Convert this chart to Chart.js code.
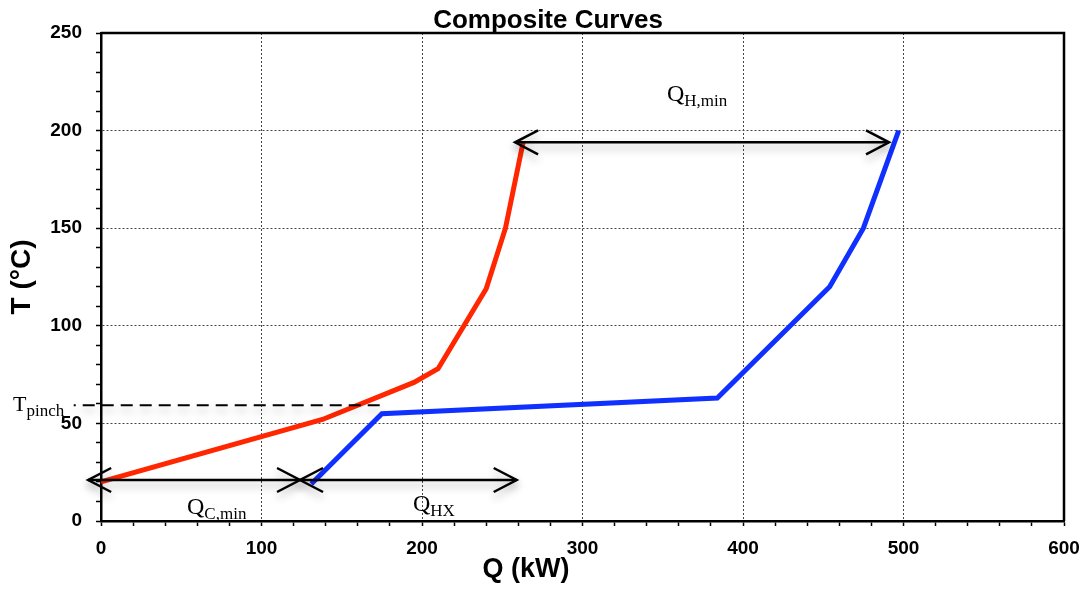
<!DOCTYPE html>
<html>
<head>
<meta charset="utf-8">
<title>Composite Curves</title>
<script src="https://cdn.jsdelivr.net/npm/chart.js@4.4.1/dist/chart.umd.min.js"></script>
<style>
  html, body { margin: 0; padding: 0; background: #fff; }
  #wrap { width: 1087px; height: 590px; position: relative; }
</style>
</head>
<body>
<div id="wrap"><canvas id="chartComposite"></canvas></div>
<script>
// hot composite curve (Q in kW, T in °C)
const hotQ = [0, 138, 195, 210, 240, 252, 263];
const hotT = [20, 52, 71, 78, 119, 150, 194];

// cold composite curve
const coldQ = [131, 175, 384, 454, 475, 497];
const coldT = [19, 55, 63, 120, 150, 200];

// double headed arrows: Q from / Q to / T
const arrowFromQ = [258, -8, 124];
const arrowToQ = [491, 124, 259];
const arrowT = [194, 21, 21];

// pinch line
const pinchQ = [-17, 175];
const pinchT = 59.3;

// annotation labels (main letter + subscript)
const labelMain = ['Q', 'Q', 'Q', 'T'];
const labelSub = ['H,min', 'C,min', 'HX', 'pinch'];
const labelQ = [352.6, 53.6, 194.4, -54.8];
const labelT = [215, 3.4, 5, 56.3];

const chartTitle = 'Composite Curves';
const xTitle = 'Q (kW)';
const yTitle = 'T (°C)';

function toPoints(xs, ys) {
    return xs.map((x, i) => ({ x: x, y: ys[i] }));
}

function drawArrowHead(ctx, x, y, dir) {
    // open chevron, dir = -1 points left, +1 points right
    ctx.beginPath();
    ctx.moveTo(x - dir * 23, y - 12);
    ctx.lineTo(x, y);
    ctx.lineTo(x - dir * 23, y + 12);
    ctx.stroke();
}

const annotationsPlugin = {
    id: 'annotations',
    afterDraw(chart) {
        const ctx = chart.ctx;
        const xs = chart.scales.x;
        const ys = chart.scales.y;
        const area = chart.chartArea;

        // frame on top and right
        ctx.save();
        ctx.strokeStyle = '#000';
        ctx.lineWidth = 2.5;
        ctx.beginPath();
        ctx.moveTo(area.left, area.top);
        ctx.lineTo(area.right, area.top);
        ctx.lineTo(area.right, area.bottom);
        ctx.stroke();
        ctx.restore();

        // pinch line
        ctx.save();
        ctx.shadowColor = 'rgba(0,0,0,0.3)';
        ctx.shadowBlur = 8;
        ctx.shadowOffsetY = 5;
        ctx.strokeStyle = '#000';
        ctx.lineWidth = 2;
        ctx.setLineDash([12, 7]);
        ctx.lineDashOffset = 10;
        ctx.beginPath();
        ctx.moveTo(xs.getPixelForValue(pinchQ[0]), ys.getPixelForValue(pinchT));
        ctx.lineTo(xs.getPixelForValue(pinchQ[1]), ys.getPixelForValue(pinchT));
        ctx.stroke();
        ctx.restore();

        // arrows
        ctx.save();
        ctx.shadowColor = 'rgba(0,0,0,0.3)';
        ctx.shadowBlur = 8;
        ctx.shadowOffsetY = 5;
        ctx.strokeStyle = '#000';
        ctx.lineWidth = 2.5;
        arrowFromQ.forEach((q, i) => {
            const x1 = xs.getPixelForValue(q);
            const x2 = xs.getPixelForValue(arrowToQ[i]);
            const y = ys.getPixelForValue(arrowT[i]);
            ctx.beginPath();
            ctx.moveTo(x1, y);
            ctx.lineTo(x2, y);
            ctx.stroke();
            drawArrowHead(ctx, x1, y, -1);
            drawArrowHead(ctx, x2, y, 1);
        });
        ctx.restore();

        // labels with subscripts
        ctx.save();
        ctx.fillStyle = '#000';
        ctx.textBaseline = 'alphabetic';
        ctx.textAlign = 'left';
        labelMain.forEach((txt, i) => {
            const x = xs.getPixelForValue(labelQ[i]);
            const y = ys.getPixelForValue(labelT[i]);
            ctx.font = (txt === 'T' ? '22px' : '24px') + ' "Liberation Serif", "Times New Roman", serif';
            ctx.fillText(txt, x, y);
            const w = ctx.measureText(txt).width;
            ctx.font = '17px "Liberation Serif", "Times New Roman", serif';
            ctx.fillText(labelSub[i], x + w, y + 5);
        });
        ctx.restore();

        // chart title and x axis title
        ctx.save();
        ctx.fillStyle = '#000';
        ctx.textAlign = 'center';
        ctx.textBaseline = 'alphabetic';
        ctx.font = 'bold 26px "Liberation Sans", Arial, sans-serif';
        ctx.fillText(chartTitle, 548, 28);
        ctx.font = 'bold 27px "Liberation Sans", Arial, sans-serif';
        ctx.fillText(xTitle, 526, 577);
        ctx.restore();
    }
};

function createCompositeChart() {
    const ctx = document.getElementById('chartComposite');
    if (!ctx) return;

    const tickFont = { family: '"Liberation Sans", Arial, sans-serif', size: 19, weight: 'bold' };

    new Chart(ctx, {
        type: 'line',
        data: {
            datasets: [{
                label: 'Hot',
                data: toPoints(hotQ, hotT),
                borderColor: 'rgb(255,38,0)',
                borderWidth: 5,
                pointRadius: 0,
                tension: 0,
                fill: false
            }, {
                label: 'Cold',
                data: toPoints(coldQ, coldT),
                borderColor: 'rgb(16,48,255)',
                borderWidth: 5,
                pointRadius: 0,
                tension: 0,
                fill: false
            }]
        },
        options: {
            responsive: true,
            maintainAspectRatio: false,
            animation: false,
            layout: { padding: { top: 33, right: 23, left: 0, bottom: 0 } },
            plugins: {
                legend: { display: false },
                tooltip: { enabled: false },
                title: { display: false }
            },
            scales: {
                x: {
                    type: 'linear',
                    min: 0,
                    max: 600,
                    afterFit: s => {
                        s.height = 69;
                        s.paddingRight = 0;
                        s.paddingLeft = 0;
                    },
                    ticks: {
                        stepSize: 20,
                        autoSkip: false,
                        maxRotation: 0,
                        padding: 11,
                        color: '#000',
                        font: tickFont,
                        callback: v => (v % 100 === 0 ? v : '')
                    },
                    grid: {
                        color: c => (c.tick && c.tick.value % 100 === 0 ? '#444' : 'rgba(0,0,0,0)'),
                        lineWidth: 1,
                        tickColor: '#000',
                        tickWidth: 1.5,
                        tickLength: 5,
                        tickBorderDash: []
                    },
                    border: { color: '#000', width: 2.5, dash: [2, 2] }
                },
                y: {
                    min: 0,
                    max: 250,
                    afterFit: s => { s.width = 101; },
                    ticks: {
                        stepSize: 10,
                        autoSkip: false,
                        padding: 14,
                        color: '#000',
                        font: tickFont,
                        callback: v => (v % 50 === 0 ? v : '')
                    },
                    grid: {
                        color: c => (c.tick && c.tick.value % 50 === 0 ? '#444' : 'rgba(0,0,0,0)'),
                        lineWidth: 1,
                        tickColor: '#000',
                        tickWidth: 1.5,
                        tickLength: 5,
                        tickBorderDash: []
                    },
                    border: { color: '#000', width: 2.5, dash: [2, 2] },
                    title: {
                        display: true,
                        text: yTitle,
                        color: '#000',
                        padding: { top: 5, bottom: 0 },
                        font: { family: '"Liberation Sans", Arial, sans-serif', size: 28, weight: 'bold' }
                    }
                }
            }
        },
        plugins: [annotationsPlugin]
    });
}

createCompositeChart();
</script>
</body>
</html>
